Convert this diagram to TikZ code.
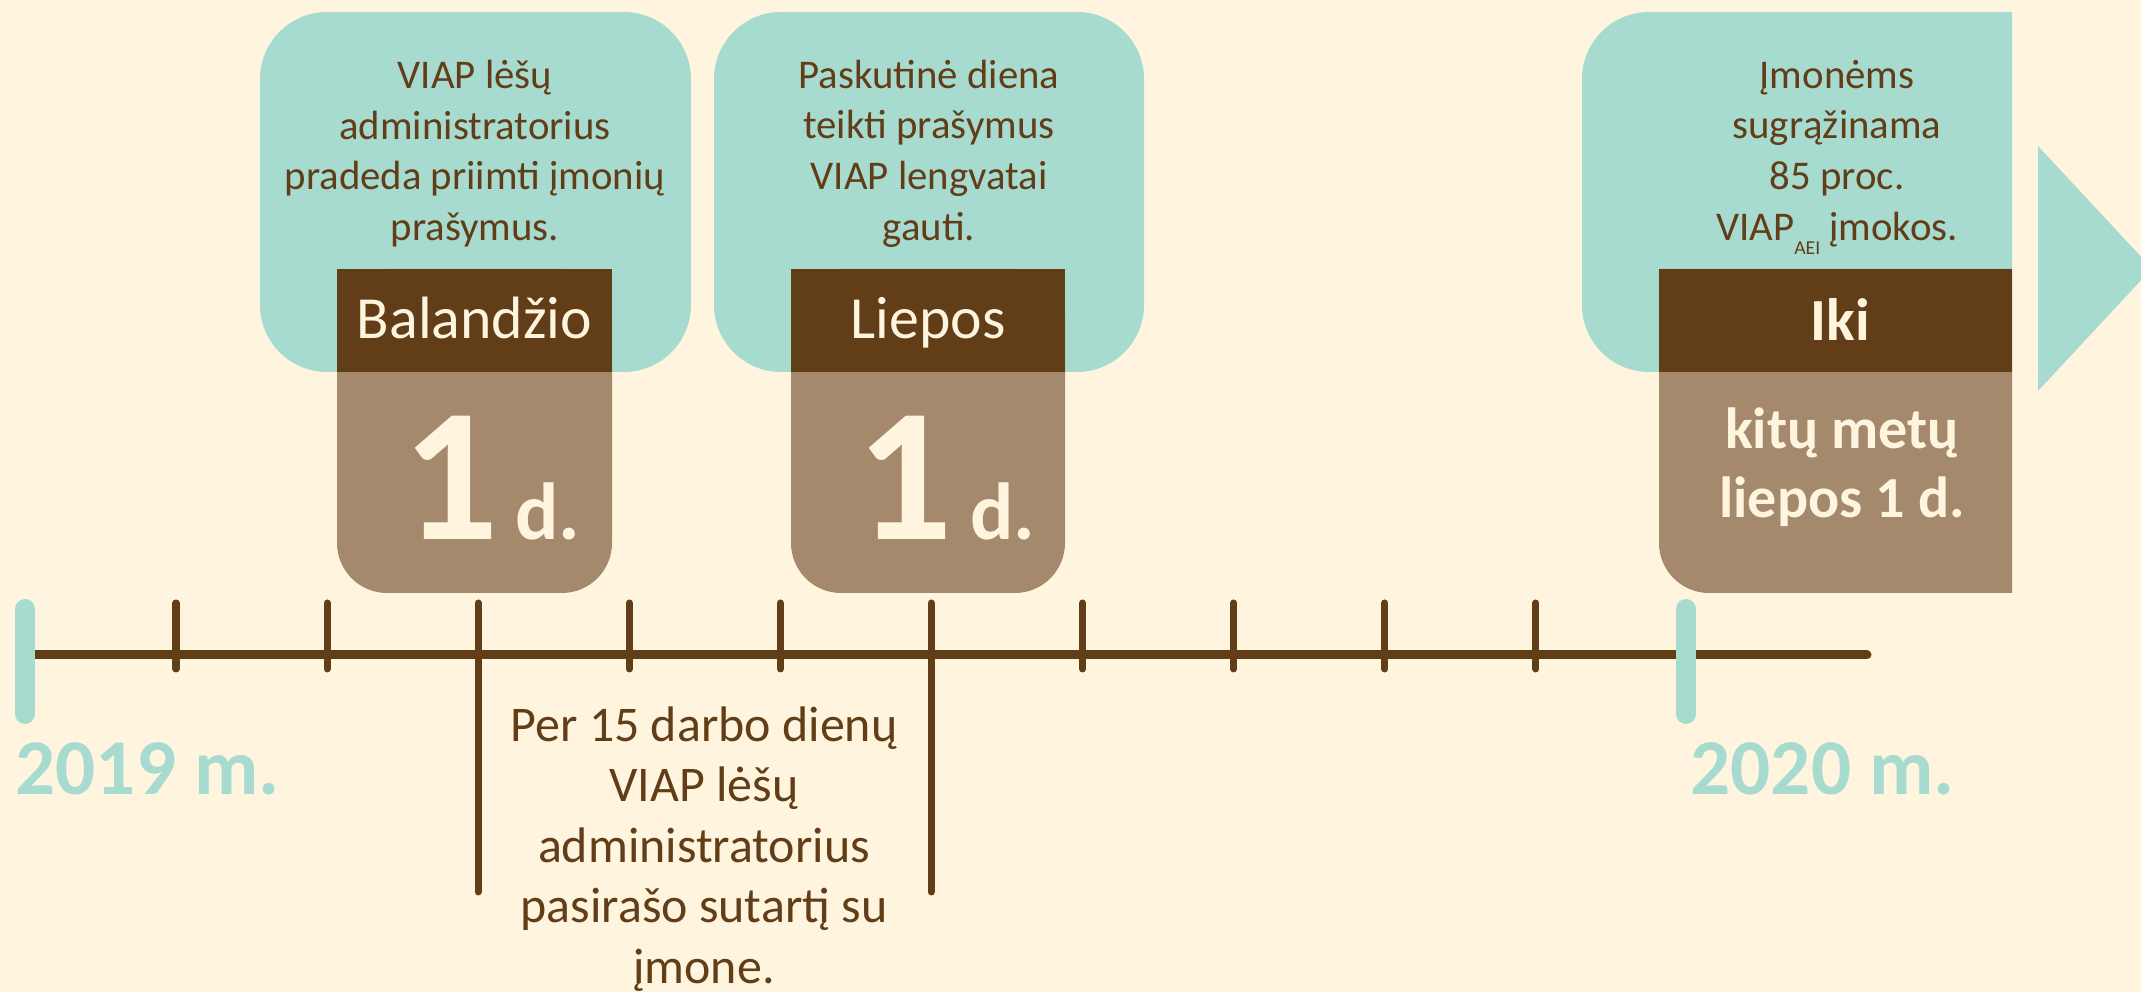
\documentclass[tikz,border=0pt]{standalone}
\usepackage{fontspec}
\setmainfont{Carlito}

\definecolor{bgcream}{HTML}{FFF5DF}
\definecolor{mint}{HTML}{A8DBD0}
\definecolor{darkbrown}{HTML}{613D18}
\definecolor{tanbrown}{HTML}{A5896C}

\tikzset{
	,x = 0.01cm, y = -0.01cm
	,boxtext/.style   = {align=center, inner sep=0pt, text=darkbrown, font=\fontsize{11.6}{14.4}\selectfont}
	,monthtext/.style = {anchor=base, inner sep=0pt, text=bgcream, font=\fontsize{17}{19}\selectfont}
	,bigday/.style    = {anchor=base, inner sep=0pt, text=bgcream, font=\bfseries\fontsize{54}{60}\selectfont}
	,smallday/.style  = {anchor=base, inner sep=0pt, text=bgcream, font=\bfseries\fontsize{23}{26}\selectfont}
	,yeartext/.style  = {anchor=base west, inner sep=0pt, text=mint, font=\bfseries\fontsize{22.5}{26}\selectfont}
	,axisline/.style  = {line width=0.09cm, darkbrown, line cap=round}
	,ticksmall/.style = {line width=0.07cm, darkbrown, line cap=round}
	,tickyear/.style  = {line width=0.2cm, mint, line cap=round}
	,biground/.style  = {rounded corners=0.67cm}
	,smallround/.style = {rounded corners=0.5cm}
}

\begin{document}
\begin{tikzpicture}
	\useasboundingbox (0,0) rectangle (2141,992);
	\clip (0,0) rectangle (2141,992);
	\fill[bgcream] (0,0) rectangle (2141,992);
	% boxes
	\fill[mint, biground] (260,12) rectangle (691,372);
	\fill[mint, biground] (714,12) rectangle (1144,372);
	\fill[mint] (2012,12) [biground] -- (1582,12) -- (1582,372) [sharp corners] -- (2012,372) -- cycle;
	\fill[mint] (2038,146) -- (2152,268.5) -- (2038,391) -- cycle;
	\fill[tanbrown, smallround] (337,269) rectangle (612,593);
	\fill[tanbrown, smallround] (791,269) rectangle (1065,593);
	\fill[tanbrown] (2012,269) -- (1659,269) [smallround] -- (1659,593) [sharp corners] -- (2012,593) -- cycle;
	\fill[darkbrown] (337,269) rectangle (612,372);
	\fill[darkbrown] (791,269) rectangle (1065,372);
	\fill[darkbrown] (1659,269) rectangle (2012,372);
	% time line
	\draw[axisline] (25,655) -- (1867,655);
	\foreach \k in {0,1,3,4,6,7,8,9}
		\draw[ticksmall] (176+151.1*\k,603) -- (176+151.1*\k,669);
	\draw[ticksmall] (478,603) -- (478,892);
	\draw[ticksmall] (931,603) -- (931,892);
	\draw[tickyear] (25,609) -- (25,714);
	\draw[tickyear] (1686,609) -- (1686,714);
	% texts
	\node[boxtext] at (475,153.5) (startA) {VIAP lėšų\\administratorius\\pradeda priimti įmonių\\prašymus.};
	\node[boxtext] at (929,153.5) (lastA) {Paskutinė diena\\teikti prašymus\\VIAP lengvatai\\gauti.};
	\node[boxtext] at (1837,153.5) (backA) {Įmonėms\\sugrąžinama\\85 proc.\\VIAP\raisebox{-0.35em}[0pt][0pt]{\fontsize{5.6}{6}\selectfont AEI} įmokos.};
	\node[monthtext] at (474.5,339) (startM) {Balandžio};
	\node[monthtext] at (928,339) (lastM) {Liepos};
	\node[monthtext, font=\bfseries\fontsize{17}{19}\selectfont] at (1840,341) (backM) {Iki};
	\node[bigday] at (451,540) (startD) {1};
	\node[smallday] at (548,540) (startDd) {d.};
	\node[bigday] at (904.5,540) (lastD) {1};
	\node[smallday] at (1003,540) (lastDd) {d.};
	\node[align=center, inner sep=0pt, text=bgcream, font=\bfseries\fontsize{16.5}{19.6}\selectfont] at (1842,467.5) (backD) {kitų metų\\liepos 1 d.};
	\node[yeartext] at (15,795) (yearA) {2019 m.};
	\node[yeartext] at (1690,795) (yearB) {2020 m.};
	\node[boxtext, font=\fontsize{14.2}{17.2}\selectfont] at (704,849) (signA) {Per 15 darbo dienų\\VIAP lėšų\\administratorius\\pasirašo sutartį su\\įmone.};
\end{tikzpicture}
\end{document}
